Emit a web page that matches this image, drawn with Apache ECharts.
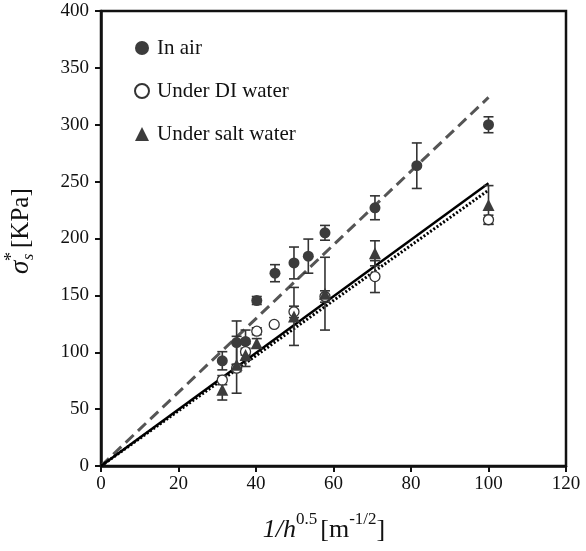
<!DOCTYPE html>
<html><head><meta charset="utf-8">
<script src="https://cdn.jsdelivr.net/npm/echarts@6/dist/echarts.min.js"></script>
<style>html,body{margin:0;padding:0;background:#fff}#c{width:586px;height:551px}</style>
</head><body><div id="c"></div>
<script>
// ---- data ----
const airX = [31.3, 35.0, 37.3, 40.2, 44.9, 49.8, 53.5, 57.8, 70.7, 81.5, 100];
const airY = [92.5, 108.5, 109.5, 145.5, 169.5, 178.5, 184.5, 205, 227, 264, 300];
const airE = [8, 19, 10, 3.5, 7.5, 14, 15, 6.5, 10.5, 20, 7];

const diX = [31.3, 35.0, 37.3, 40.2, 44.7, 49.8, 57.8, 70.7, 100];
const diY = [75.5, 86, 100.5, 118.5, 124.5, 135.5, 149, 166.5, 216.5];
const diE = [4, 3, 3, 3, 0, 5, 5, 14, 4];

const saltX = [31.3, 35.0, 37.3, 40.2, 49.8, 57.8, 70.7, 100];
const saltY = [67, 89, 97.5, 108, 131.5, 151.5, 187, 229.5];
const saltE = [9, 25, 10, 4, 25.5, 32, 11, 17];

const fitX = [0, 100];
const airFitY = [0, 324];
const diFitY = [0, 242.5];
const saltFitY = [0, 248.5];

const xTicks = [0, 20, 40, 60, 80, 100, 120];
const yTicks = [0, 50, 100, 150, 200, 250, 300, 350, 400];

const FONT = "'Liberation Serif','Times New Roman',serif";

function errSeries(xs, ys, es, name) {
  return {
    type: 'custom', name: name + ' err', silent: true, z: 2,
    renderItem(params, api) {
      const x = api.value(0), lo = api.value(1), hi = api.value(2);
      const a = api.coord([x, lo]), b = api.coord([x, hi]);
      const w = 5;
      const st = { stroke: '#333', lineWidth: 1.6 };
      return { type: 'group', children: [
        { type: 'line', shape: { x1: a[0], y1: a[1], x2: b[0], y2: b[1] }, style: st },
        { type: 'line', shape: { x1: a[0] - w, y1: a[1], x2: a[0] + w, y2: a[1] }, style: st },
        { type: 'line', shape: { x1: b[0] - w, y1: b[1], x2: b[0] + w, y2: b[1] }, style: st }
      ]};
    },
    data: xs.map((x, i) => [x, ys[i] - es[i], ys[i] + es[i]]).filter(d => d[2] > d[1]),
    encode: { x: 0, y: [1, 2] }
  };
}
const pts = (xs, ys) => xs.map((x, i) => [x, ys[i]]);

const chart = echarts.init(document.getElementById('c'), null, { renderer: 'canvas' });
chart.setOption({
  animation: false,
  backgroundColor: '#fff',
  grid: { left: 101, right: 20, top: 11, bottom: 85, show: true, borderColor: '#111', borderWidth: 2.5 },
  xAxis: {
    type: 'value', min: 0, max: 120, interval: 20,
    axisLine: { lineStyle: { color: '#111', width: 2.5 } },
    axisTick: { show: true, length: 6, lineStyle: { color: '#111', width: 2 } },
    axisLabel: { color: '#111', fontFamily: FONT, fontSize: 19, margin: 9,
      customValues: xTicks },
    splitLine: { show: false }
  },
  yAxis: {
    type: 'value', min: 0, max: 400, interval: 50,
    axisLine: { show: true, lineStyle: { color: '#111', width: 2.5 } },
    axisTick: { show: true, length: 6, lineStyle: { color: '#111', width: 2 } },
    axisLabel: { color: '#111', fontFamily: FONT, fontSize: 19, margin: 12 },
    splitLine: { show: false }
  },
  legend: {
    orient: 'vertical', left: 129, top: 32, itemGap: 21, itemWidth: 14, itemHeight: 14,
    selectedMode: false,
    data: ['In air', 'Under DI water', 'Under salt water'],
    textStyle: { fontFamily: FONT, fontSize: 21, color: '#111', lineHeight: 22, padding: [0, 0, 0, 3] }
  },
  graphic: [
    { type: 'text', x: 324, y: 543, style: {
        text: '{i|1/h}{s|0.5} {r|[m}{s|-1/2}{r|]}',
        align: 'center', verticalAlign: 'bottom', fill: '#111', fontFamily: FONT,
        rich: {
          i: { fontStyle: 'italic', fontSize: 26, fontFamily: FONT, lineHeight: 32, verticalAlign: 'bottom' },
          r: { fontSize: 26, fontFamily: FONT, lineHeight: 32, verticalAlign: 'bottom' },
          s: { fontSize: 17, fontFamily: FONT, lineHeight: 32, verticalAlign: 'top' }
        }
    }},
    { type: 'group', x: 21, y: 227, rotation: Math.PI / 2, children: [
      { type: 'text', x: -47, y: 0, style: { text: 'σ', fontFamily: FONT, fontStyle: 'italic', fontSize: 27, fill: '#111', verticalAlign: 'middle' } },
      { type: 'text', x: -34, y: -9, style: { text: '*', fontFamily: FONT, fontSize: 18, fill: '#111', verticalAlign: 'middle' } },
      { type: 'text', x: -33, y: 8, style: { text: 's', fontFamily: FONT, fontStyle: 'italic', fontSize: 16, fill: '#111', verticalAlign: 'middle' } },
      { type: 'text', x: -21, y: 0, style: { text: '[KPa]', fontFamily: FONT, fontSize: 25, fill: '#111', verticalAlign: 'middle' } }
    ]}
  ],
  series: [
    { type: 'line', name: 'air fit', data: pts(fitX, airFitY), showSymbol: false, silent: true, z: 1,
      lineStyle: { color: '#555', width: 3, type: [11, 6] } },
    { type: 'line', name: 'salt fit', data: pts(fitX, saltFitY), showSymbol: false, silent: true, z: 1,
      lineStyle: { color: '#000', width: 2.5 } },
    { type: 'line', name: 'DI fit', data: pts(fitX, diFitY), showSymbol: false, silent: true, z: 1,
      lineStyle: { color: '#000', width: 3, type: [2, 2] } },
    errSeries(airX, airY, airE, 'air'),
    errSeries(diX, diY, diE, 'di'),
    errSeries(saltX, saltY, saltE, 'salt'),
    { type: 'scatter', name: 'In air', data: pts(airX, airY), symbol: 'circle', symbolSize: 11, z: 3,
      itemStyle: { color: '#3c3c3c', opacity: 1 } },
    { type: 'scatter', name: 'Under DI water', data: pts(diX, diY), symbol: 'circle', symbolSize: 10, z: 3,
      itemStyle: { color: '#fff', borderColor: '#333', borderWidth: 1.3, opacity: 1 } },
    { type: 'scatter', name: 'Under salt water', data: pts(saltX, saltY), symbol: 'triangle', symbolSize: 12, z: 4,
      itemStyle: { color: '#3c3c3c', opacity: 1 } }
  ]
});
</script>
</body></html>
